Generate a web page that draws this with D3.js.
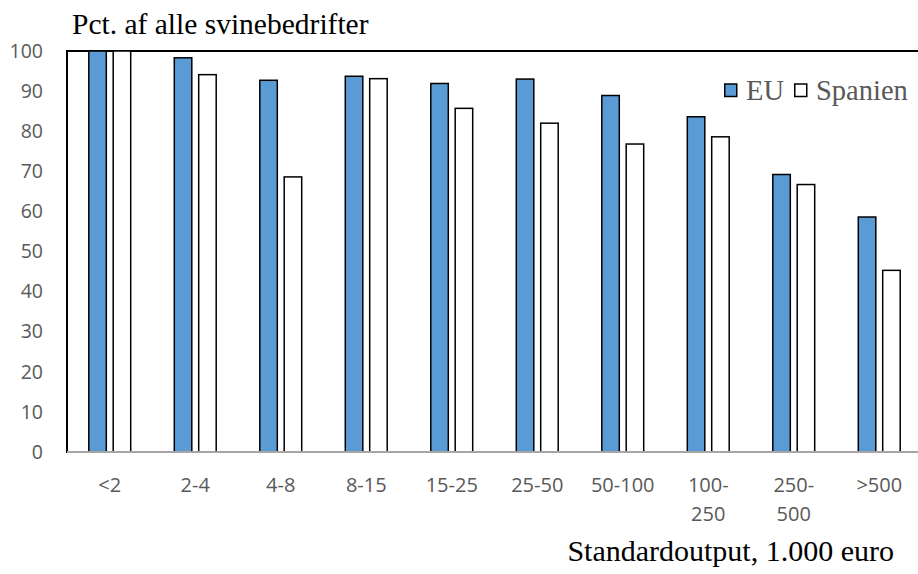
<!DOCTYPE html>
<html>
<head>
<meta charset="utf-8">
<script src="https://cdn.jsdelivr.net/npm/d3@7"></script>
<style>
  body { margin: 0; background: #fff; }
  svg { display: block; }
</style>
</head>
<body>
<script>
// data
var categories = ["<2", "2-4", "4-8", "8-15", "15-25", "25-50", "50-100", "100-250", "250-500", ">500"];
var euValues = [100, 98.3, 92.7, 93.7, 91.9, 93.0, 88.9, 83.6, 69.2, 58.6];
var spanienValues = [100, 94.1, 68.6, 93.1, 85.7, 82.0, 76.8, 78.6, 66.7, 45.3];
var seriesNames = ["EU", "Spanien"];
var yTicks = [0, 10, 20, 30, 40, 50, 60, 70, 80, 90, 100];

var width = 918, height = 574;
var plot = {left: 67, top: 51, right: 922, bottom: 452};

var blue = "#5b9bd5";
var gray = "#595959";

var svg = d3.select("body").append("svg")
    .attr("width", width)
    .attr("height", height);

// scales
var x = d3.scaleBand().domain(categories).range([plot.left, plot.right]).padding(0);
var y = d3.scaleLinear().domain([0, 100]).range([plot.bottom, plot.top]);
var xs = d3.scaleBand().domain(seriesNames).range([-21.7, 21.7]).paddingInner(0.221).paddingOuter(0);

var data = categories.map(function(c, i) {
    return {cat: c, EU: euValues[i], Spanien: spanienValues[i]};
});

// frame round the plot (right side runs off the picture)
svg.append("rect")
    .attr("x", plot.left)
    .attr("y", plot.top)
    .attr("width", plot.right - plot.left + 10)
    .attr("height", plot.bottom - plot.top)
    .style("fill", "none")
    .style("stroke", "#000")
    .style("stroke-width", 2);

// bars
var groups = svg.selectAll(".group")
    .data(data)
    .enter().append("g")
    .attr("class", "group")
    .attr("transform", function(d) { return "translate(" + (x(d.cat) + x.bandwidth() / 2) + ",0)"; });

groups.selectAll("rect")
    .data(function(d) { return seriesNames.map(function(s) { return {key: s, value: d[s]}; }); })
    .enter().append("rect")
    .attr("x", function(d) { return xs(d.key) + 0.75; })
    .attr("width", xs.bandwidth() - 1.5)
    .attr("y", function(d) { return y(d.value); })
    .attr("height", function(d) { return y(0) - y(d.value); })
    .style("fill", function(d) { return d.key == "EU" ? blue : "#fff"; })
    .style("stroke", "#000")
    .style("stroke-width", 1.5);

// x axis line
svg.append("line")
    .attr("x1", plot.left)
    .attr("x2", width)
    .attr("y1", y(0))
    .attr("y2", y(0))
    .style("stroke", "#a6a6a6")
    .style("stroke-width", 2);

// y axis labels, no line and no ticks
var yAxis = svg.append("g")
    .attr("transform", "translate(43,0)")
    .call(d3.axisLeft(y).tickValues(yTicks).tickSize(0).tickPadding(0));
yAxis.select(".domain").remove();
yAxis.selectAll("text")
    .style("font-family", "'Open Sans', sans-serif")
    .style("font-size", "19.5px")
    .style("fill", gray);

// x labels, the long ones wrap onto two lines
var xLabels = svg.append("g")
    .selectAll("text")
    .data(categories)
    .enter().append("text")
    .attr("x", function(d) { return x(d) + x.bandwidth() / 2; })
    .attr("y", 492)
    .style("font-family", "'Open Sans', sans-serif")
    .style("font-size", "20px")
    .style("fill", gray)
    .style("text-anchor", "middle");

xLabels.each(function(d) {
    var parts = d.length > 6 ? [d.slice(0, d.indexOf("-") + 1), d.slice(d.indexOf("-") + 1)] : [d];
    var t = d3.select(this);
    parts.forEach(function(p, i) {
        t.append("tspan")
            .attr("x", t.attr("x"))
            .attr("dy", i == 0 ? 0 : 29)
            .text(p);
    });
});

// titles
svg.append("text")
    .text("Pct. af alle svinebedrifter")
    .attr("x", 72)
    .attr("y", 34)
    .style("font-family", "'Liberation Serif', 'Times New Roman', serif")
    .style("font-size", "29.5px")
    .style("fill", "#000");

svg.append("text")
    .text("Standardoutput, 1.000 euro")
    .attr("x", 894)
    .attr("y", 561)
    .style("font-family", "'Liberation Serif', 'Times New Roman', serif")
    .style("font-size", "30px")
    .style("text-anchor", "end")
    .style("fill", "#000");

// legend
var legend = svg.append("g").attr("class", "legend");
var legendX = [724, 794];

legend.selectAll("rect")
    .data(seriesNames)
    .enter().append("rect")
    .attr("x", function(d, i) { return legendX[i] + 0.75; })
    .attr("y", 84)
    .attr("width", 12)
    .attr("height", 12.5)
    .style("fill", function(d) { return d == "EU" ? blue : "#fff"; })
    .style("stroke", "#000")
    .style("stroke-width", 1.5);

legend.selectAll("text")
    .data(seriesNames)
    .enter().append("text")
    .attr("x", function(d, i) { return legendX[i] + 22; })
    .attr("y", 100)
    .text(function(d) { return d; })
    .style("font-family", "'Liberation Serif', 'Times New Roman', serif")
    .style("font-size", "28.5px")
    .style("fill", gray);
</script>
</body>
</html>
